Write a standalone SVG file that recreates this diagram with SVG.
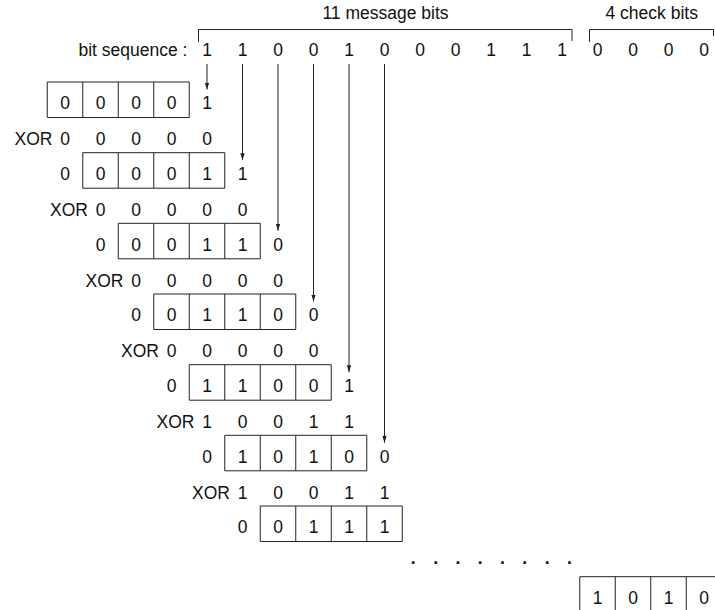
<svg xmlns="http://www.w3.org/2000/svg" xmlns:xlink="http://www.w3.org/1999/xlink" width="715" height="610" viewBox="0 0 715 610">
  <style>
    text { font-family: "Liberation Sans", Arial, sans-serif; font-size: 17.5px; fill: #111; }
    .c { text-anchor: middle; }
    .e { text-anchor: end; }
    .dots { font-weight: bold; }
    .ln { fill: none; stroke: #222; stroke-width: 1; }
    .arr { fill: none; stroke: #222; stroke-width: 1; marker-end: url(#tip); }
  </style>
  <defs>
    <!-- 4-cell shift register: 142 x 35.5 -->
    <path id="reg" class="ln" d="M0,0 H142 V35.5 H0 Z M35.5,0 V35.5 M71,0 V35.5 M106.5,0 V35.5"/>
    <marker id="tip" markerUnits="userSpaceOnUse" markerWidth="8" markerHeight="10" refX="7" refY="2.2" orient="auto">
      <path d="M0,0 L7,2.2 L0,4.4 Z" fill="#222"/>
    </marker>
  </defs>

  <!-- header: bit sequence with brackets -->
  <g id="header">
    <text class="c" x="385.5" y="19">11 message bits</text>
    <text class="c" x="651.7" y="19">4 check bits</text>
    <path class="ln" d="M198.5,42 V29.5 H572 V41"/>
    <path class="ln" d="M589.5,42 V29.5 H713.5 V36"/>
    <text x="78.5" y="56">bit sequence :</text>
    <text class="c" y="56" x="207 242.5 278 313.5 349 384.5 420 455.5 491 526.5 562 597.5 633 668.5 704">110010001110000</text>
  </g>

  <!-- connectors: each incoming bit drops into its step -->
  <g id="connectors">
    <line class="arr" x1="207" y1="64" x2="207" y2="89.5"/>
    <line class="arr" x1="242.5" y1="64" x2="242.5" y2="160.2"/>
    <line class="arr" x1="278" y1="64" x2="278" y2="230.8"/>
    <line class="arr" x1="313.5" y1="64" x2="313.5" y2="301.5"/>
    <line class="arr" x1="349" y1="64" x2="349" y2="372.2"/>
    <line class="arr" x1="384.5" y1="64" x2="384.5" y2="442.8"/>
  </g>

  <!-- step 0 -->
  <g id="step0">
    <use xlink:href="#reg" x="47.25" y="82"/>
    <text class="c" y="109.3" x="65 100.5 136 171.5 207">00001</text>
  </g>
  <g id="xor0">
    <text class="e" x="52.5" y="145.3">XOR</text>
    <text class="c" y="145.3" x="65 100.5 136 171.5 207">00000</text>
  </g>

  <!-- step 1 -->
  <g id="step1">
    <use xlink:href="#reg" x="82.75" y="152.7"/>
    <text class="c" y="180" x="65 100.5 136 171.5 207 242.5">000011</text>
  </g>
  <g id="xor1">
    <text class="e" x="88" y="216">XOR</text>
    <text class="c" y="216" x="100.5 136 171.5 207 242.5">00000</text>
  </g>

  <!-- step 2 -->
  <g id="step2">
    <use xlink:href="#reg" x="118.25" y="223.3"/>
    <text class="c" y="250.6" x="100.5 136 171.5 207 242.5 278">000110</text>
  </g>
  <g id="xor2">
    <text class="e" x="123.5" y="286.6">XOR</text>
    <text class="c" y="286.6" x="136 171.5 207 242.5 278">00000</text>
  </g>

  <!-- step 3 -->
  <g id="step3">
    <use xlink:href="#reg" x="153.75" y="294"/>
    <text class="c" y="321.3" x="136 171.5 207 242.5 278 313.5">001100</text>
  </g>
  <g id="xor3">
    <text class="e" x="159" y="357.3">XOR</text>
    <text class="c" y="357.3" x="171.5 207 242.5 278 313.5">00000</text>
  </g>

  <!-- step 4 -->
  <g id="step4">
    <use xlink:href="#reg" x="189.25" y="364.7"/>
    <text class="c" y="392" x="171.5 207 242.5 278 313.5 349">011001</text>
  </g>
  <g id="xor4">
    <text class="e" x="194.5" y="428">XOR</text>
    <text class="c" y="428" x="207 242.5 278 313.5 349">10011</text>
  </g>

  <!-- step 5 -->
  <g id="step5">
    <use xlink:href="#reg" x="224.75" y="435.3"/>
    <text class="c" y="462.6" x="207 242.5 278 313.5 349 384.5">010100</text>
  </g>
  <g id="xor5">
    <text class="e" x="230" y="498.6">XOR</text>
    <text class="c" y="498.6" x="242.5 278 313.5 349 384.5">10011</text>
  </g>

  <!-- step 6 -->
  <g id="step6">
    <use xlink:href="#reg" x="260.25" y="506"/>
    <text class="c" y="533.3" x="242.5 278 313.5 349 384.5">00111</text>
  </g>

  <!-- continuation -->
  <g id="ellipsis">
    <text class="c dots" y="563.5" x="413.3 435.6 457.9 480.2 502.5 524.8 547.1 569.4">........</text>
  </g>

  <!-- final remainder -->
  <g id="remainder">
    <use xlink:href="#reg" x="579.75" y="576.7"/>
    <text class="c" y="604" x="597.5 633 668.5 704">1010</text>
  </g>
</svg>
